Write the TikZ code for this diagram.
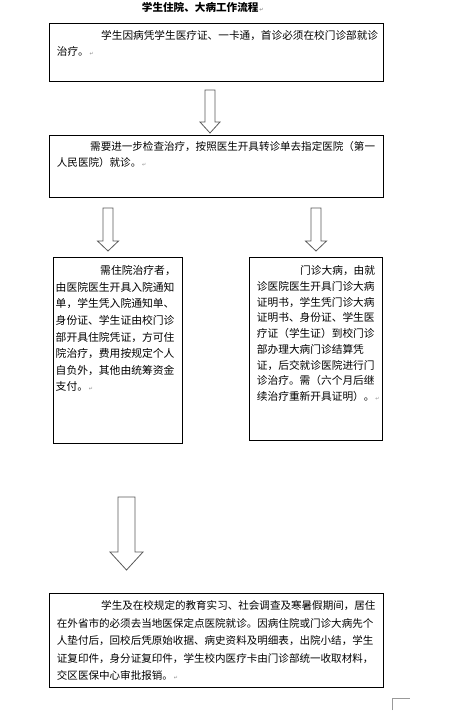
\documentclass[tikz,border=0pt]{standalone}
\usepackage{fontspec}
\newfontfamily\cjk{Noto Sans CJK SC}
\newfontfamily\symf{DejaVu Sans}
\newcommand\pmark{{\symf\fontsize{5}{5}\selectfont\color{black!45}\,↵}}
\begin{document}
\begin{tikzpicture}[x=1pt,y=-1pt,
  box/.style={draw=black,line width=0.8pt,anchor=north west,inner sep=0pt,fill=white},
  txt/.style={anchor=north west,inner sep=0pt,align=left},
  blockarrow/.style={draw=black!65,line width=0.8pt,fill=white,line join=miter}]
\useasboundingbox (0,0) rectangle (449,714);
% title
\node[inner sep=0pt,anchor=west,font=\cjk\bfseries\fontsize{10.6}{12}\selectfont] (title) at (141.7,7.5) {学生住院、大病工作流程\pmark};
% boxes
\node[box,minimum width=333.4pt,minimum height=58pt] (b1) at (49.3,23) {};
\node[box,minimum width=333.4pt,minimum height=61.7pt] (b2) at (49.3,135) {};
\node[box,minimum width=129pt,minimum height=186pt] (b3) at (52.7,257) {};
\node[box,minimum width=133pt,minimum height=183pt] (b4) at (249,257) {};
\node[box,minimum width=333.7pt,minimum height=94pt] (b5) at (49.3,593) {};
% texts
\node[txt,font=\cjk\fontsize{10.65}{16}\selectfont] (t1) at (56.7,30.6)
 {\hspace*{44.3pt}学生因病凭学生医疗证、一卡通，首诊必须在校门诊部就诊\\治疗。\pmark};
\node[txt,font=\cjk\fontsize{10.55}{16}\selectfont] (t2) at (56.7,141.4)
 {\hspace*{33.3pt}需要进一步检查治疗，按照医生开具转诊单去指定医院（第一\\人民医院）就诊。\pmark};
\node[txt,font=\cjk\fontsize{10.8}{16.6}\selectfont] (t3) at (55.5,265.3)
 {\hspace*{44.5pt}需住院治疗者，\\由医院医生开具入院通知\\单，学生凭入院通知单、\\身份证、学生证由校门诊\\部开具住院凭证，方可住\\院治疗，费用按规定个人\\自负外，其他由统筹资金\\支付。\pmark};
\node[txt,font=\cjk\fontsize{10.7}{15.75}\selectfont] (t4) at (256.7,265.3)
 {\hspace*{43.3pt}门诊大病，由就\\诊医院医生开具门诊大病\\证明书，学生凭门诊大病\\证明书、身份证、学生医\\疗证（学生证）到校门诊\\部办理大病门诊结算凭\\证，后交就诊医院进行门\\诊治疗。需（六个月后继\\续治疗重新开具证明）。\pmark};
\node[txt,font=\cjk\fontsize{10.55}{17.4}\selectfont] (t5) at (56.7,600.7)
 {\hspace*{44.3pt}学生及在校规定的教育实习、社会调查及寒暑假期间，居住\\在外省市的必须去当地医保定点医院就诊。因病住院或门诊大病先个\\人垫付后，回校后凭原始收据、病史资料及明细表，出院小结，学生\\证复印件，身分证复印件，学生校内医疗卡由门诊部统一收取材料，\\交区医保中心审批报销。\pmark};
% block arrows
\draw[blockarrow] (205,90) -- (215,90) -- (215,122) -- (220,122) -- (210,133) -- (200,122) -- (205,122) -- cycle;
\draw[blockarrow] (103,208) -- (113,208) -- (113,241) -- (118.5,241) -- (108,251) -- (97.5,241) -- (103,241) -- cycle;
\draw[blockarrow] (311,208) -- (321,208) -- (321,241) -- (326.5,241) -- (316,251) -- (305.5,241) -- (311,241) -- cycle;
\draw[blockarrow] (118,497) -- (135,497) -- (135,552) -- (143,552) -- (126.5,570) -- (110,552) -- (118,552) -- cycle;
% corner mark
\draw[black!40,line width=0.6pt] (392,710) -- (392,698.3) -- (410,698.3);
\end{tikzpicture}
\end{document}
